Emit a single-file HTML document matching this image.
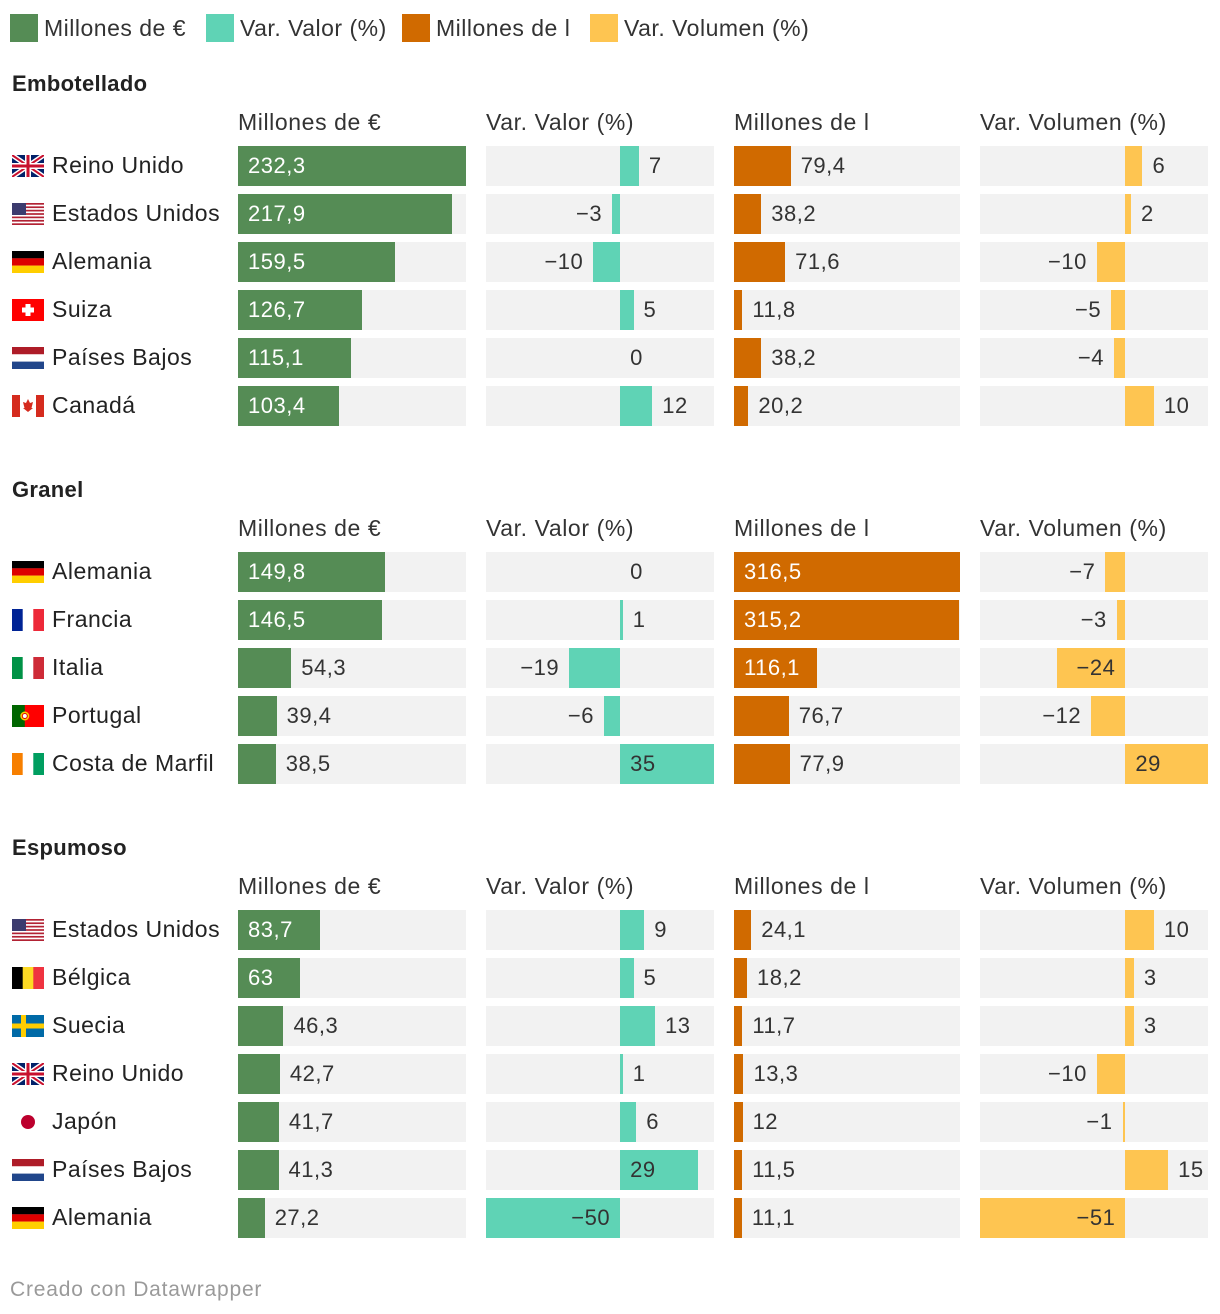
<!DOCTYPE html>
<html><head><meta charset="utf-8">
<style>
body{margin:0;background:#fff;font-family:"Liberation Sans",sans-serif;color:#333}
#root{position:relative;width:1220px;height:1314px;overflow:hidden;letter-spacing:0.5px}
.a{position:absolute;white-space:nowrap}
.lbl{font-size:22px;line-height:40px;height:40px}
</style></head><body>
<div id="root">
<div class="a" style="left:10px;top:14px;width:28px;height:28px;background:#558c55"></div>
<div class="a" style="left:44px;top:14px;font-size:23px;line-height:28px">Millones de €</div>
<div class="a" style="left:206px;top:14px;width:28px;height:28px;background:#5fd3b5"></div>
<div class="a" style="left:240px;top:14px;font-size:23px;line-height:28px">Var. Valor (%)</div>
<div class="a" style="left:402px;top:14px;width:28px;height:28px;background:#d06a00"></div>
<div class="a" style="left:436px;top:14px;font-size:23px;line-height:28px">Millones de l</div>
<div class="a" style="left:590px;top:14px;width:28px;height:28px;background:#fec551"></div>
<div class="a" style="left:624px;top:14px;font-size:23px;line-height:28px">Var. Volumen (%)</div>
<div class="a" style="left:10px;top:1278px;font-size:21px;letter-spacing:0.8px;color:#9a9a9a">Creado con Datawrapper</div>
</div>
<script>
const embCountries=['uk','us','de','ch','nl','ca'];
const embNames=['Reino Unido','Estados Unidos','Alemania','Suiza','Países Bajos','Canadá'];
const embValor=[232.3,217.9,159.5,126.7,115.1,103.4];
const embVarValor=[7,-3,-10,5,0,12];
const embVol=[79.4,38.2,71.6,11.8,38.2,20.2];
const embVarVol=[6,2,-10,-5,-4,10];
const graCountries=['de','fr','it','pt','ci'];
const graNames=['Alemania','Francia','Italia','Portugal','Costa de Marfil'];
const graValor=[149.8,146.5,54.3,39.4,38.5];
const graVarValor=[0,1,-19,-6,35];
const graVol=[316.5,315.2,116.1,76.7,77.9];
const graVarVol=[-7,-3,-24,-12,29];
const espCountries=['us','be','se','uk','jp','nl','de'];
const espNames=['Estados Unidos','Bélgica','Suecia','Reino Unido','Japón','Países Bajos','Alemania'];
const espValor=[83.7,63,46.3,42.7,41.7,41.3,27.2];
const espVarValor=[9,5,13,1,6,29,-50];
const espVol=[24.1,18.2,11.7,13.3,12,11.5,11.1];
const espVarVol=[10,3,3,-10,-1,15,-51];
const colHeaders=['Millones de €','Var. Valor (%)','Millones de l','Var. Volumen (%)'];

const root=document.getElementById('root');
const sections=[
 {title:'Embotellado',ty:84,hy:122,ry:146,c:embCountries,n:embNames,d:[embValor,embVarValor,embVol,embVarVol]},
 {title:'Granel',ty:490,hy:528,ry:552,c:graCountries,n:graNames,d:[graValor,graVarValor,graVol,graVarVol]},
 {title:'Espumoso',ty:848,hy:886,ry:910,c:espCountries,n:espNames,d:[espValor,espVarValor,espVol,espVarVol]}
];
const cols=[
 {x:238,w:228,div:false,color:'#558c55',inTxt:'#fff'},
 {x:486,w:228,div:true,color:'#5fd3b5',inTxt:'#333'},
 {x:734,w:226,div:false,color:'#d06a00',inTxt:'#fff'},
 {x:980,w:228,div:true,color:'#fec551',inTxt:'#333'}
];
cols.forEach((c,i)=>{
 const all=sections.flatMap(s=>s.d[i]);
 c.min=c.div?Math.min(0,...all):0;c.max=Math.max(...all);
 c.scale=v=>c.x+(v-c.min)/(c.max-c.min)*c.w;
});
function fmt(v){return String(v).replace('.',',').replace('-','−');}
function tw(s){let w=0;for(const ch of s)w+=(ch===','?5:12);return w;}
function flag(code){
 const W=32,H=22;let s='';
 const r=(x,y,w,h,f)=>`<rect x="${x}" y="${y}" width="${w}" height="${h}" fill="${f}"/>`;
 if(code==='uk'){s=r(0,0,W,H,'#012169')+`<path d="M0 0L32 22M32 0L0 22" stroke="#fff" stroke-width="5"/><path d="M0 0L32 22M32 0L0 22" stroke="#c8102e" stroke-width="2"/>`+r(13,0,6,H,'#fff')+r(0,8,W,6,'#fff')+r(14.5,0,3,H,'#c8102e')+r(0,9.5,W,3,'#c8102e');}
 else if(code==='us'){for(let i=0;i<7;i++)s+=r(0,i*22/6.5,W,22/13,'#b22234');s=r(0,0,W,H,'#fff')+s+r(0,0,14,12,'#3c3b6e');}
 else if(code==='de')s=r(0,0,W,7.4,'#000')+r(0,7.3,W,7.4,'#dd0000')+r(0,14.6,W,7.4,'#ffce00');
 else if(code==='ch')s=r(0,0,W,H,'#ff0000')+r(13.5,5,5,12,'#fff')+r(10,8.5,12,5,'#fff');
 else if(code==='nl')s=r(0,0,W,7.4,'#ae1c28')+r(0,7.3,W,7.4,'#fff')+r(0,14.6,W,7.4,'#21468b');
 else if(code==='ca')s=r(0,0,W,H,'#fff')+r(0,0,8,H,'#d52b1e')+r(24,0,8,H,'#d52b1e')+`<path d="M16 4L18 8L21 7L19.5 13L21 13L16 17L11 13L12.5 13L11 7L14 8Z" fill="#d52b1e"/>`;
 else if(code==='fr')s=r(0,0,11,H,'#002395')+r(10.7,0,11,H,'#fff')+r(21.3,0,10.7,H,'#ed2939');
 else if(code==='it')s=r(0,0,11,H,'#009246')+r(10.7,0,11,H,'#fff')+r(21.3,0,10.7,H,'#ce2b37');
 else if(code==='ci')s=r(0,0,11,H,'#f77f00')+r(10.7,0,11,H,'#fff')+r(21.3,0,10.7,H,'#009e60');
 else if(code==='be')s=r(0,0,11,H,'#000')+r(10.7,0,11,H,'#fdda24')+r(21.3,0,10.7,H,'#ef3340');
 else if(code==='pt')s=r(0,0,13,H,'#006600')+r(12.8,0,19.2,H,'#ff0000')+`<circle cx="12.8" cy="11" r="4.5" fill="#ffcc00"/><circle cx="12.8" cy="11" r="2.5" fill="#fff" stroke="#d00" stroke-width="1"/>`;
 else if(code==='se')s=r(0,0,W,H,'#006aa7')+r(9,0,5,H,'#fecc00')+r(0,8.5,W,5,'#fecc00');
 else if(code==='jp')s=r(0,0,W,H,'#fff')+`<circle cx="16" cy="11" r="7" fill="#bc002d"/>`;
 return `<svg width="32" height="22" viewBox="0 0 32 22">${s}</svg>`;
}
function add(html,style,name){
 const el=document.createElement('div');el.className='a';el.style.cssText=style;el.innerHTML=html;
 
 
 root.appendChild(el);return el;
}
sections.forEach((s,si)=>{
 const key=s.title.toLowerCase();
 add(s.title,`left:12px;top:${s.ty-13}px;font-size:22px;font-weight:bold;color:#222;letter-spacing:0.3px`,key+'-title');
 cols.forEach((c,ci)=>add(colHeaders[ci],`left:${c.x}px;top:${s.hy-13}px;font-size:23px;color:#333;letter-spacing:0.6px`,key+'-header-'+ci));
 s.c.forEach((code,ri)=>{
  const y=s.ry+ri*48;
  add(flag(code),`left:12px;top:${y+9}px;width:32px;height:22px;line-height:0`,key+'-flag-'+code);
  add(s.n[ri],`left:52px;top:${y+1}px;font-size:23px;line-height:36px;color:#222;letter-spacing:0.5px`,key+'-country-'+ri);
  cols.forEach((c,ci)=>{
   const v=s.d[ci][ri];
   add('',`left:${c.x}px;top:${y}px;width:${c.w}px;height:40px;background:#f2f2f2`,key+'-cell-bg-'+ci+'-'+ri);
   const z=c.scale(0),e=c.scale(v);
   const x0=Math.min(z,e),bw=Math.abs(e-z);
   add('',`left:${x0}px;top:${y}px;width:${Math.max(bw,v===0?0:1.5)}px;height:40px;background:${c.color}`,key+'-bar-'+ci+'-'+ri);
   const t=fmt(v),w=tw(t),inside=bw>w+22;
   let st;
   if(v<0){
    if(inside)st=`left:${z-10-w-20}px;width:${w+20}px;text-align:right;color:${c.inTxt}`;
    else st=`left:${x0-10-w-20}px;width:${w+20}px;text-align:right;color:#333`;
   }else{
    if(inside)st=`left:${x0+10}px;color:${c.inTxt}`;
    else st=`left:${e+10}px;color:#333`;
   }
   add(t,`top:${y}px;${st}`,key+'-value-'+ci+'-'+ri).classList.add('lbl');
  });
 });
});
</script>
</body></html>
